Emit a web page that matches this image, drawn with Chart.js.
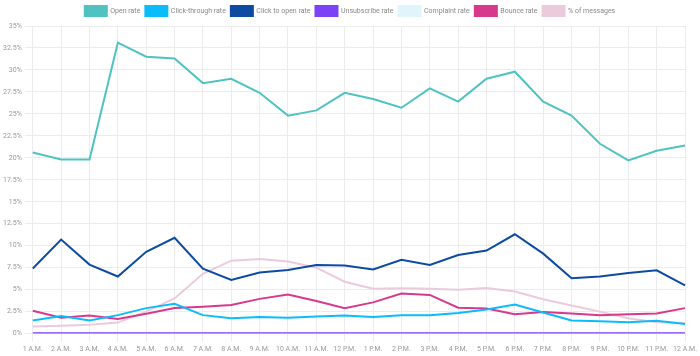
<!DOCTYPE html>
<html>
<head>
<meta charset="utf-8">
<script src="https://cdn.jsdelivr.net/npm/chart.js@4.4.0/dist/chart.umd.min.js"></script>
<style>
html,body{margin:0;padding:0;background:#fff;}
#wrap{width:700px;height:356px;}
</style>
</head>
<body>
<div id="wrap"><canvas id="c" width="700" height="356"></canvas></div>
<script>
const categories = ["1 A.M.","2 A.M.","3 A.M.","4 A.M.","5 A.M.","6 A.M.","7 A.M.","8 A.M.","9 A.M.","10 A.M.","11 A.M.","12 P.M.","1 P.M.","2 P.M.","3 P.M.","4 P.M.","5 P.M.","6 P.M.","7 P.M.","8 P.M.","9 P.M.","10 P.M.","11 P.M.","12 A.M."];
const openRate = [20.6,19.8,19.8,33.1,31.5,31.3,28.5,29.0,27.4,24.8,25.4,27.4,26.7,25.7,27.9,26.4,29.0,29.8,26.4,24.8,21.6,19.7,20.8,21.4];
const clickThroughRate = [1.5,2.0,1.5,2.1,2.9,3.4,2.1,1.75,1.9,1.8,1.95,2.05,1.9,2.1,2.1,2.35,2.75,3.3,2.4,1.5,1.4,1.3,1.45,1.1];
const clickToOpenRate = [7.4,10.7,7.85,6.5,9.3,10.9,7.4,6.1,6.95,7.25,7.8,7.75,7.3,8.4,7.8,8.95,9.45,11.3,9.1,6.3,6.5,6.9,7.2,5.5];
const unsubscribeRate = [0.05,0.05,0.05,0.05,0.05,0.05,0.05,0.05,0.05,0.05,0.05,0.05,0.05,0.05,0.05,0.05,0.05,0.05,0.05,0.05,0.05,0.05,0.05,0.05];
const complaintRate = [0.01,0.01,0.01,0.01,0.01,0.01,0.01,0.01,0.01,0.01,0.01,0.01,0.01,0.01,0.01,0.01,0.01,0.01,0.01,0.01,0.01,0.01,0.01,0.01];
const bounceRate = [2.6,1.8,2.05,1.65,2.25,2.9,3.05,3.25,3.95,4.45,3.7,2.9,3.55,4.55,4.4,2.95,2.85,2.2,2.45,2.3,2.1,2.2,2.3,2.9];
const pctMessages = [0.8,0.9,1.0,1.25,2.5,4.0,6.8,8.3,8.5,8.2,7.5,5.9,5.1,5.15,5.1,5.0,5.2,4.8,3.9,3.2,2.5,1.75,1.3,1.2];
const yTicks = [0,2.5,5,7.5,10,12.5,15,17.5,20,22.5,25,27.5,30,32.5,35];

const series = [
  ["Open rate", openRate, "#4fc3c1"],
  ["Click-through rate", clickThroughRate, "#0bbcfb"],
  ["Click to open rate", clickToOpenRate, "#0d4ba3"],
  ["Unsubscribe rate", unsubscribeRate, "#7b42f6"],
  ["Complaint rate", complaintRate, "#dff4fb"],
  ["Bounce rate", bounceRate, "#d7398d"],
  ["% of messages", pctMessages, "#ebcadb"]
];

Chart.defaults.font.family = "Roboto, 'Liberation Sans', sans-serif";
Chart.defaults.font.size = 7;
Chart.defaults.color = "#888";

new Chart(document.getElementById("c"), {
  type: "line",
  data: {
    labels: categories,
    datasets: series.map(s => ({
      label: s[0], data: s[1], borderColor: s[2], backgroundColor: s[2],
      borderWidth: 2, pointRadius: 0, tension: 0, fill: false
    }))
  },
  options: {
    responsive: false, animation: false,
    layout: {padding: {left: 0, right: 0, top: 1, bottom: 0}},
    plugins: {
      legend: {position: "top", labels: {boxWidth: 22, boxHeight: 10, padding: 5, color: "#888", font: {size: 7}}},
      tooltip: {enabled: false}
    },
    scales: {
      x: {grid: {color: "#ececec"}, border: {display: false}, ticks: {color: "#999", maxRotation: 0, autoSkip: false, font: {size: 7}}},
      y: {min: 0, max: 35, grid: {color: "#ececec"}, border: {display: false},
          afterBuildTicks: ax => { ax.ticks = yTicks.map(v => ({value: v})); },
          ticks: {color: "#999", font: {size: 7}, callback: v => v + "%"}}
    }
  }
});
</script>
</body>
</html>
